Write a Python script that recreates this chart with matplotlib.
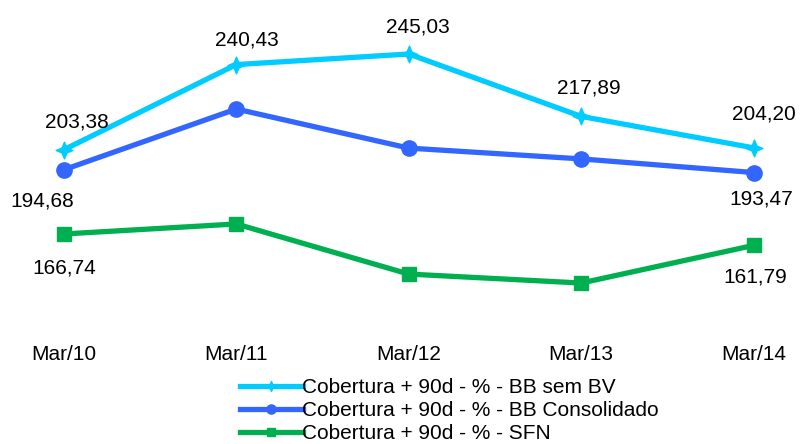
import matplotlib
matplotlib.use("Agg")
import matplotlib.pyplot as plt
from matplotlib.path import Path

categories = ["Mar/10", "Mar/11", "Mar/12", "Mar/13", "Mar/14"]
bb_sem_bv = [203.38, 240.43, 245.03, 217.89, 204.20]
bb_consolidado = [194.68, 221.1, 204.1, 199.4, 193.47]
sfn = [166.74, 171.1, 149.3, 145.4, 161.79]
series_names = ["Cobertura + 90d - % - BB sem BV",
                "Cobertura + 90d - % - BB Consolidado",
                "Cobertura + 90d - % - SFN"]

plt.rcParams['font.family'] = ['Liberation Sans', 'DejaVu Sans']

fig = plt.figure(figsize=(8.02, 4.44), dpi=100)
ax = fig.add_axes([0, 0.2568, 1, 0.7432])

star = Path([(0, 1), (0.3, 0.3), (1, 0), (0.3, -0.3), (0, -1),
             (-0.3, -0.3), (-1, 0), (-0.3, 0.3), (0, 1)],
            [Path.MOVETO] + [Path.LINETO] * 7 + [Path.CLOSEPOLY])

x = list(range(len(categories)))
c1, c2, c3 = "#00CCFF", "#3366FF", "#00B050"
ax.plot(x, bb_sem_bv, color=c1, lw=3.8, marker=star, ms=12, label=series_names[0])
ax.plot(x, bb_consolidado, color=c2, lw=3.8, marker='o', ms=11, label=series_names[1])
ax.plot(x, sfn, color=c3, lw=3.8, marker='s', ms=9.5, label=series_names[2])

ax.set_xlim(-0.37, 4.28)
ax.set_ylim(124.98, 268.52)
ax.axis('off')

fs = 15
cyan_off = [(13, 28), (11, 25), (9, 27), (8, 28), (10, 34)]
for i in range(5):
    dx, dy = cyan_off[i]
    ax.annotate(f"{bb_sem_bv[i]:.2f}".replace('.', ','), (i, bb_sem_bv[i]),
                xytext=(dx, dy), textcoords='offset pixels',
                ha='center', va='center', fontsize=fs)
for i, (dx, dy) in [(0, (-22, -31)), (4, (8, -26))]:
    ax.annotate(f"{bb_consolidado[i]:.2f}".replace('.', ','), (i, bb_consolidado[i]),
                xytext=(dx, dy), textcoords='offset pixels',
                ha='center', va='center', fontsize=fs)
for i, (dx, dy) in [(0, (0, -34)), (4, (2, -32))]:
    ax.annotate(f"{sfn[i]:.2f}".replace('.', ','), (i, sfn[i]),
                xytext=(dx, dy), textcoords='offset pixels',
                ha='center', va='center', fontsize=fs)

for i, c in enumerate(categories):
    ax.annotate(c, (i, 124.98), xytext=(0, -25), textcoords='offset pixels',
                ha='center', va='center', fontsize=fs, annotation_clip=False)

leg = fig.legend(loc='upper left', bbox_to_anchor=(240 / 802, 1 - 378 / 444),
                 frameon=False, fontsize=15, handlelength=3.0,
                 handletextpad=0.0, labelspacing=0.2, borderpad=0,
                 borderaxespad=0, markerscale=0.6)

fig.savefig("out.png", dpi=100)
